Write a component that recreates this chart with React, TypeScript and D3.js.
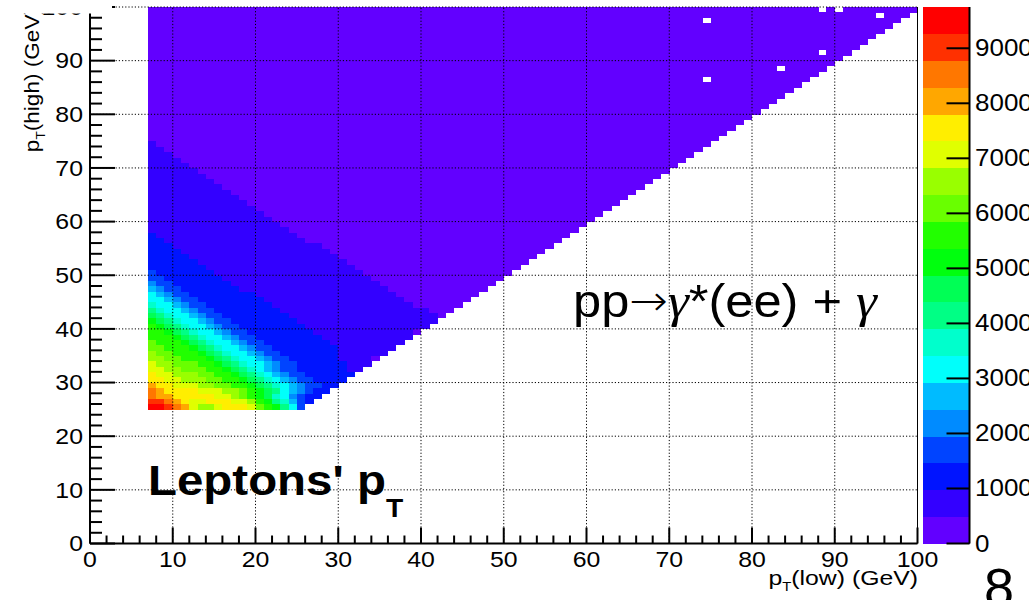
import React from "react";
import * as d3 from "d3";

// ---------------- data ----------------
const xTickValues = [0, 10, 20, 30, 40, 50, 60, 70, 80, 90, 100];
const yTickValues = [0, 10, 20, 30, 40, 50, 60, 70, 80, 90, 100];
const zTickValues = [0, 1000, 2000, 3000, 4000, 5000, 6000, 7000, 8000, 9000];
const zMax = 9750;
const nLevels = 20;
// ROOT "pretty" palette, 20 contour levels (violet -> red)
const palette = [
  "#6200ff", "#3300ff", "#0014ff", "#0044ff", "#008bff",
  "#00bbff", "#00fffb", "#00ffcc", "#00ff85", "#00ff55",
  "#00ff0e", "#22ff00", "#69ff00", "#99ff00", "#e0ff00",
  "#ffee00", "#ffa700", "#ff7700", "#ff3000", "#ff0000",
];
const firstRow = 25; // pT(high) bin of first row
const lastRow = 99;
const firstCol = 7; // pT(low) bin of first column
// contour level (0-9, A-J = 10-19) read per row, from pT(low)=7 upward; missing = level 0
const levelRows: string[] = [
  "JJIHGEDDEFFFECBA863", // 25
  "IIHGFEEFFFEEDBA87532", // 26
  "HGGFFFFFEEDCBA9764322", // 27
  "HGFFFFEEEDDCBA98654322", // 28
  "GFFEEEDDCCBBA9876543322", // 29
  "FFEEDDDCCBBA987654332222", // 30
  "FEEDDDCCBBA98765433222222", // 31
  "EEDDCCCBBA9876543322222211", // 32
  "EDDCCCBBA987665433222222111", // 33
  "DDCCBBBA9876654332222221111", // 34
  "DCCBBBA98766543322222221111111", // 35
  "CCBBBA987665433222222221111111", // 36
  "CBBBA98766543322222222111111111", // 37
  "BBBA9876654332222222211111111111", // 38
  "BBA98766543322222222111111111111", // 39
  "BA987665433222222221111111111111111", // 40
  "A9876654332222222211111111111111111", // 41
  "98766543322222222111111111111111111", // 42
  "8766543322222222111111111111111111", // 43
  "76654332222222211111111111111111", // 44
  "6654332222222211111111111111111", // 45
  "654332222222211111111111111111", // 46
  "54332222222111111111111111111", // 47
  "4332222222111111111111111111", // 48
  "332222222111111111111111111", // 49
  "32222222111111111111111111", // 50
  "2222222111111111111111111", // 51
  "222222111111111111111111", // 52
  "22222111111111111111111", // 53
  "2222111111111111111111", // 54
  "222111111111111111111", // 55
  "2211111111111111111", // 56
  "211111111111111111", // 57
  "11111111111111111", // 58
  "1111111111111111", // 59
  "111111111111111", // 60
  "11111111111111", // 61
  "1111111111111", // 62
  "111111111111", // 63
  "11111111111", // 64
  "1111111111", // 65
  "111111111", // 66
  "11111111", // 67
  "1111111", // 68
  "111111", // 69
  "11111", // 70
  "1111", // 71
  "111", // 72
  "11", // 73
  "1", // 74
];
// empty bins inside the populated triangle [pT(low), pT(high)]
const emptyCells: [number, number][] = [
  [74, 97], [74, 86], [83, 88], [88, 91], [88, 99], [90, 99], [95, 98],
];

// ---------------- layout ----------------
const W = 1029;
const H = 600;
const frame = { left: 90, right: 917.5, top: 7, bottom: 543.5 };
const bar = { left: 923, right: 969.5 };
const FONT = "'Liberation Sans', Arial, Helvetica, sans-serif";
const SERIF = "'Liberation Serif', 'DejaVu Serif', serif";
const SX = 1.13;

const levelOf = (ch: string | undefined) => (ch === undefined ? 0 : parseInt(ch, 20));

type Cell = { i: number; j: number; v: number };

function buildCells(): Cell[] {
  const holes = new Set(emptyCells.map(([a, b]) => `${a},${b}`));
  const cells: Cell[] = [];
  const step = zMax / nLevels;
  for (let j = firstRow; j <= lastRow; j++) {
    const row = levelRows[j - firstRow] ?? "";
    for (let i = firstCol; i <= Math.min(j, 99); i++) {
      if (holes.has(`${i},${j}`)) continue;
      const lvl = levelOf(row[i - firstCol]);
      cells.push({ i, j, v: (lvl + 0.5) * step });
    }
  }
  return cells;
}

function SText(props: {
  x: number; y: number; anchor?: string; size: number; weight?: string;
  sx?: number; rotate?: number; children: React.ReactNode; family?: string;
}) {
  const { x, y, anchor = "start", size, weight = "normal", sx = SX, rotate = 0, children, family = FONT } = props;
  return (
    <g transform={`translate(${x},${y}) rotate(${rotate}) scale(${sx},1)`}>
      <text textAnchor={anchor} fontSize={size} fontWeight={weight} fontFamily={family} fill="#000">
        {children}
      </text>
    </g>
  );
}

export default function App() {
  const x = d3.scaleLinear().domain([0, 100]).range([frame.left, frame.right]);
  const y = d3.scaleLinear().domain([0, 100]).range([frame.bottom, frame.top]);
  const z = d3.scaleLinear().domain([0, zMax]).range([frame.bottom, frame.top]);
  const color = (v: number) => palette[Math.min(nLevels - 1, Math.floor(v / (zMax / nLevels)))];
  const cells = buildCells();

  const xMinor = d3.range(0, 101, 2);
  const yMinor = d3.range(0, 101, 2);
  const levelEdges = d3.range(0, nLevels).map((k) => [k * (zMax / nLevels), (k + 1) * (zMax / nLevels)]);

  return (
    <svg width={W} height={H} style={{ position: "absolute", left: 0, top: 0, background: "#fff" }}>
      <rect x={0} y={0} width={W} height={H} fill="#fff" />
      {/* histogram bins */}
      <g shapeRendering="crispEdges">
        {cells.map((c) => (
          <rect
            key={`${c.i}-${c.j}`}
            x={x(c.i)}
            y={y(c.j + 1)}
            width={x(c.i + 1) - x(c.i) + 0.3}
            height={y(c.j) - y(c.j + 1) + 0.3}
            fill={color(c.v)}
          />
        ))}
      </g>
      {/* grid */}
      <g stroke="#000" strokeWidth={1} strokeDasharray="1.2,2">
        {xTickValues.slice(1, -1).map((t) => (
          <line key={`gx${t}`} x1={x(t)} x2={x(t)} y1={frame.bottom} y2={frame.top} />
        ))}
        {yTickValues.slice(1).map((t) => (
          <line key={`gy${t}`} x1={frame.left} x2={frame.right} y1={y(t)} y2={y(t)} />
        ))}
      </g>
      {/* frame right */}
      <line x1={frame.right} x2={frame.right} y1={frame.top} y2={frame.bottom} stroke="#000" strokeWidth={1} />
      {/* x axis */}
      <g stroke="#000">
        <line x1={frame.left} x2={frame.right} y1={frame.bottom} y2={frame.bottom} strokeWidth={2} />
        {xMinor.map((t) => (
          <line key={`tx${t}`} x1={x(t)} x2={x(t)} y1={frame.bottom} y2={frame.bottom - (t % 10 === 0 ? 16 : 8)} strokeWidth={2} />
        ))}
      </g>
      {/* y axis */}
      <g stroke="#000">
        <line x1={frame.left} x2={frame.left} y1={frame.bottom} y2={frame.top} strokeWidth={2} />
        {yMinor.map((t) => (
          <line key={`ty${t}`} x1={frame.left} x2={frame.left + (t % 10 === 0 ? 25 : 12)} y1={y(t)} y2={y(t)} strokeWidth={2} />
        ))}
      </g>
      {/* tick labels */}
      {xTickValues.map((t) => (
        <SText key={`lx${t}`} x={x(t)} y={567} anchor="middle" size={22}>{t}</SText>
      ))}
      {yTickValues.map((t) => (
        <SText key={`ly${t}`} x={83} y={y(t) + 7.8} anchor="end" size={22}>{t}</SText>
      ))}
      {/* axis titles */}
      <SText x={918} y={585} anchor="end" size={20} sx={1.24}>
        <tspan>p</tspan>
        <tspan fontSize={12} dy={6}>T</tspan>
        <tspan dy={-6}>(low) (GeV)</tspan>
      </SText>
      <SText x={39} y={7} anchor="end" size={20} rotate={-90} sx={1.13}>
        <tspan>p</tspan>
        <tspan fontSize={12} dy={6}>T</tspan>
        <tspan dy={-6}>(high) (GeV)</tspan>
      </SText>
      {/* colour bar */}
      <g shapeRendering="crispEdges">
        {levelEdges.map(([a, b], k) => (
          <rect key={`cb${k}`} x={bar.left} y={z(b)} width={bar.right - bar.left} height={z(a) - z(b) + 0.3} fill={palette[k]} />
        ))}
      </g>
      <g stroke="#000" strokeWidth={2}>
        <line x1={bar.right} x2={bar.right} y1={frame.top} y2={frame.bottom} />
        {zTickValues.map((t) => (
          <line key={`tz${t}`} x1={bar.right - 23} x2={bar.right} y1={z(t)} y2={z(t)} />
        ))}
      </g>
      {zTickValues.map((t) => (
        <SText key={`lz${t}`} x={975} y={z(t) + 8} size={23}>{t}</SText>
      ))}
      {/* crop of the slide above the axis */}
      <rect x={0} y={0} width={112} height={13.5} fill="#fff" />
      {/* annotations */}
      <SText x={148} y={495} size={42} weight="bold">
        <tspan>Leptons' p</tspan>
        <tspan fontSize={25} dy={22}>T</tspan>
      </SText>
      <SText x={573} y={317} size={46} sx={1.1}>
        <tspan>pp</tspan>
        <tspan fontFamily="'DejaVu Sans Light', 'DejaVu Sans ExtraLight', 'DejaVu Sans', sans-serif" fontWeight={200} fontSize={42} dy={-2}>→</tspan>
        <tspan fontFamily={SERIF} fontStyle="italic" fontSize={48} dy={2}>γ</tspan>
        <tspan>*(ee) + </tspan>
        <tspan fontFamily={SERIF} fontStyle="italic" fontSize={48}>γ</tspan>
      </SText>
      {/* slide page number */}
      <SText x={999} y={606} anchor="middle" size={54} sx={1}>8</SText>
    </svg>
  );
}
